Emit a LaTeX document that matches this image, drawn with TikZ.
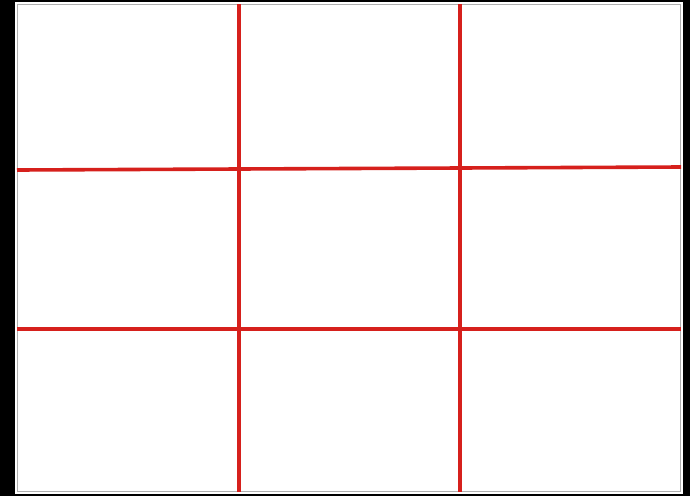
\documentclass[tikz,border=0pt]{standalone}
\definecolor{gridred}{RGB}{214,32,28}
\definecolor{framegray}{RGB}{175,175,175}
\tikzset{gridline/.style={draw=gridred,line width=3.6pt}}
\begin{document}
\begin{tikzpicture}[x=1pt,y=-1pt]
\fill[black] (0,0) rectangle (690,496);
\useasboundingbox (0,0) rectangle (690,496);
\fill[white] (15,2) rectangle (683,494);
\draw[framegray,line width=1.5pt] (17.5,4.5) rectangle (680.5,491.5);
\coordinate (v1t) at (239,4); \coordinate (v1b) at (239,492);
\coordinate (v2t) at (460,4); \coordinate (v2b) at (460,492);
\coordinate (h1l) at (17,170); \coordinate (h1r) at (681,167);
\coordinate (h2l) at (17,329); \coordinate (h2r) at (681,329);
\draw[gridline] (v1t) -- (v1b);
\draw[gridline] (v2t) -- (v2b);
\draw[gridline] (h1l) -- (h1r);
\draw[gridline] (h2l) -- (h2r);
\end{tikzpicture}
\end{document}
